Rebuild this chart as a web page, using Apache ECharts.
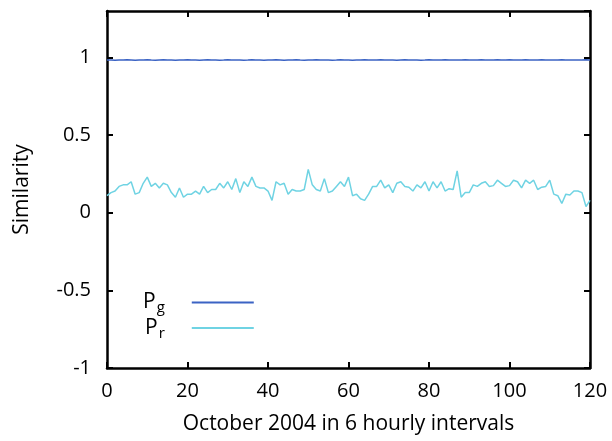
<!DOCTYPE html>
<html>
<head>
<meta charset="utf-8">
<script src="https://cdn.jsdelivr.net/npm/echarts@6/dist/echarts.min.js"></script>
<style>
  html, body { margin: 0; padding: 0; background: #fff; }
  #chart { width: 612px; height: 441px; }
</style>
</head>
<body>
<div id="chart"></div>
<script>
// x index: October 2004, 6 hourly steps 0..120
const steps = [];
for (let i = 0; i <= 120; i++) steps.push(i);

// P_g similarity (almost flat near 1)
const pg = [
  0.985, 0.984, 0.983, 0.985, 0.984, 0.986, 0.985, 0.983, 0.984, 0.985,
  0.986, 0.984, 0.983, 0.985, 0.986, 0.985, 0.984, 0.983, 0.985, 0.984,
  0.986, 0.985, 0.984, 0.983, 0.985, 0.986, 0.984, 0.985, 0.983, 0.984,
  0.986, 0.985, 0.984, 0.985, 0.983, 0.984, 0.986, 0.985, 0.984, 0.983,
  0.985, 0.984, 0.986, 0.985, 0.983, 0.984, 0.985, 0.986, 0.984, 0.983,
  0.985, 0.984, 0.986, 0.985, 0.984, 0.985, 0.983, 0.984, 0.986, 0.985,
  0.984, 0.983, 0.985, 0.984, 0.986, 0.985, 0.984, 0.985, 0.986, 0.984,
  0.985, 0.984, 0.983, 0.985, 0.986, 0.985, 0.984, 0.985, 0.983, 0.984,
  0.986, 0.985, 0.984, 0.985, 0.986, 0.984, 0.985, 0.984, 0.985, 0.986,
  0.985, 0.984, 0.985, 0.986, 0.985, 0.984, 0.985, 0.986, 0.984, 0.985,
  0.986, 0.985, 0.984, 0.985, 0.986, 0.985, 0.984, 0.985, 0.986, 0.984,
  0.985, 0.984, 0.985, 0.986, 0.985, 0.984, 0.985, 0.984, 0.985, 0.986,
  0.984
];

// P_r similarity
const pr = [
  0.11, 0.13, 0.14, 0.17, 0.18, 0.18, 0.20, 0.12, 0.13, 0.19,
  0.23, 0.17, 0.19, 0.16, 0.19, 0.18, 0.13, 0.10, 0.16, 0.10,
  0.12, 0.12, 0.14, 0.12, 0.17, 0.13, 0.15, 0.15, 0.19, 0.16,
  0.20, 0.15, 0.22, 0.13, 0.20, 0.17, 0.23, 0.17, 0.16, 0.16,
  0.14, 0.08, 0.20, 0.18, 0.19, 0.12, 0.15, 0.14, 0.14, 0.15,
  0.28, 0.18, 0.15, 0.14, 0.22, 0.13, 0.14, 0.17, 0.20, 0.17,
  0.23, 0.11, 0.12, 0.09, 0.08, 0.12, 0.17, 0.17, 0.21, 0.16,
  0.18, 0.13, 0.19, 0.20, 0.17, 0.165, 0.14, 0.18, 0.16, 0.20,
  0.14, 0.20, 0.16, 0.20, 0.14, 0.155, 0.15, 0.27, 0.10, 0.13,
  0.13, 0.18, 0.17, 0.19, 0.20, 0.17, 0.175, 0.21, 0.19, 0.17,
  0.175, 0.21, 0.20, 0.16, 0.21, 0.19, 0.21, 0.15, 0.165, 0.17,
  0.21, 0.12, 0.11, 0.06, 0.12, 0.115, 0.14, 0.14, 0.13, 0.04,
  0.08
];

const xTicks = [0, 20, 40, 60, 80, 100, 120];
const yTicks = [-1, -0.5, 0, 0.5, 1];

const font = "'Open Sans', 'Noto Sans', sans-serif";

const chart = echarts.init(document.getElementById("chart"), null, { renderer: "canvas" });

const pair = (xs, ys) => xs.map((x, i) => [x, ys[i]]);

const frameLine = { show: true, onZero: false, lineStyle: { color: "#000", width: 2.5 } };
const innerTick = { show: true, inside: true, length: 6, lineStyle: { color: "#000", width: 2 } };

const option = {
  backgroundColor: "#fff",
  animation: false,
  grid: { left: 107, right: 22, top: 11, bottom: 73 },
  legend: {
    left: 138,
    top: 287,
    orient: "vertical",
    align: "right",
    icon: "rect",
    itemWidth: 62,
    itemHeight: 2,
    itemGap: 2,
    textStyle: {
      fontFamily: font,
      color: "#000",
      rich: {
        p: { fontSize: 21, fontFamily: font, color: "#000" },
        s: { fontSize: 15, fontFamily: font, color: "#000", padding: [11, 22, 0, 1] }
      }
    },
    formatter: name => "{p|P}{s|" + name.slice(2) + "}",
    data: ["P_g", "P_r"]
  },
  xAxis: [
    {
      type: "value",
      position: "bottom",
      min: 0,
      max: 120,
      interval: 20,
      axisLine: frameLine,
      axisTick: innerTick,
      splitLine: { show: false },
      axisLabel: {
        margin: 13,
        fontSize: 20,
        fontFamily: font,
        color: "#000",
        formatter: v => (xTicks.includes(v) ? String(v) : "")
      },
      name: "October 2004 in 6 hourly intervals",
      nameLocation: "middle",
      nameGap: 46,
      nameTextStyle: { fontSize: 21, fontFamily: font, color: "#000" }
    },
    {
      type: "value",
      position: "top",
      min: 0,
      max: 120,
      interval: 20,
      axisLine: frameLine,
      axisTick: innerTick,
      axisLabel: { show: false },
      splitLine: { show: false }
    }
  ],
  yAxis: [
    {
      type: "value",
      position: "left",
      min: -1,
      max: 1.3,
      interval: 0.5,
      axisLine: frameLine,
      axisTick: innerTick,
      splitLine: { show: false },
      axisLabel: {
        margin: 16,
        fontSize: 20,
        fontFamily: font,
        color: "#000",
        showMaxLabel: false,
        formatter: v => (yTicks.includes(v) ? String(v) : "")
      },
      name: "Similarity",
      nameLocation: "middle",
      nameGap: 74,
      nameTextStyle: { fontSize: 21, fontFamily: font, color: "#000" }
    },
    {
      type: "value",
      position: "right",
      min: -1,
      max: 1.3,
      interval: 0.5,
      axisLine: frameLine,
      axisTick: innerTick,
      axisLabel: { show: false },
      splitLine: { show: false }
    }
  ],
  series: [
    {
      name: "P_g",
      type: "line",
      symbol: "none",
      data: pair(steps, pg),
      lineStyle: { color: "#3b63c4", width: 1.5 },
      itemStyle: { color: "#3b63c4" }
    },
    {
      name: "P_r",
      type: "line",
      symbol: "none",
      data: pair(steps, pr),
      lineStyle: { color: "#6fd3e3", width: 1.5 },
      itemStyle: { color: "#6fd3e3" }
    }
  ]
};

chart.setOption(option);
</script>
</body>
</html>
